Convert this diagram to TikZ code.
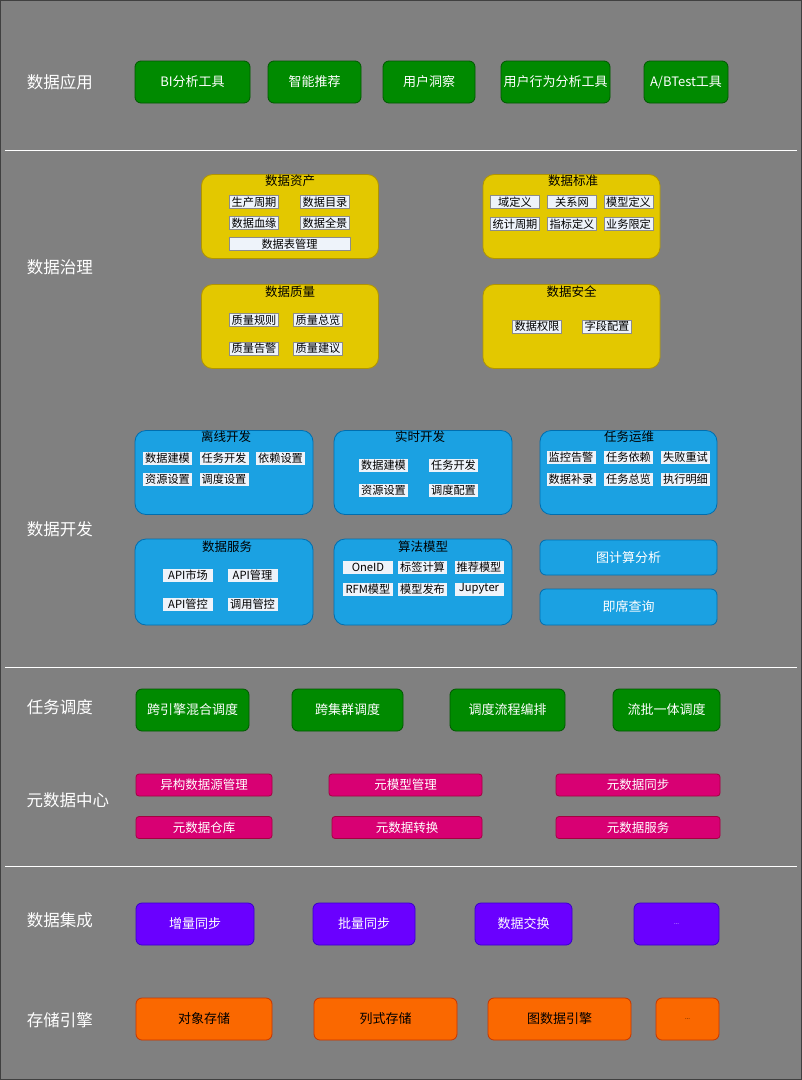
\documentclass[tikz,border=0pt]{standalone}
\usepackage{fontspec}
\setmainfont{Noto Sans CJK SC}
\definecolor{bggray}{RGB}{128,128,128}
\definecolor{appfill}{RGB}{0,138,0}
\definecolor{appline}{RGB}{0,87,0}
\definecolor{govfill}{RGB}{227,200,0}
\definecolor{govline}{RGB}{176,149,0}
\definecolor{devfill}{RGB}{27,161,226}
\definecolor{devline}{RGB}{0,110,175}
\definecolor{metafill}{RGB}{216,0,115}
\definecolor{metaline}{RGB}{165,0,64}
\definecolor{intfill}{RGB}{106,0,255}
\definecolor{intline}{RGB}{55,0,204}
\definecolor{storefill}{RGB}{250,104,0}
\definecolor{storeline}{RGB}{199,53,0}
\definecolor{itemfill}{RGB}{238,243,250}

\begin{document}
\begin{tikzpicture}[
    x=1pt, y=-1pt,
    layer/.style={text=white, font=\fontsize{16.5}{18}\selectfont},
    tile/.style={rectangle, line width=0.8pt, inner sep=0pt, align=center},
    app/.style={tile, rounded corners=6pt, fill=appfill, draw=appline, text=white,
      font=\fontsize{13}{15}\selectfont, minimum height=42pt},
    group/.style={tile, rounded corners=11pt, minimum height=84pt},
    gov/.style={group, fill=govfill, draw=govline, minimum width=177pt},
    dev/.style={group, fill=devfill, draw=devline, minimum width=178pt},
    title/.style={font=\fontsize{12.5}{14}\selectfont, text=black, inner sep=0pt},
    item/.style={tile, fill=itemfill, draw=black!45, line width=0.4pt, text=black,
      font=\fontsize{11.2}{12}\selectfont, minimum width=49pt, minimum height=13pt},
    ditem/.style={item, draw=none},
    solo/.style={tile, rounded corners=6pt, fill=devfill, draw=devline, text=white,
      font=\fontsize{13}{15}\selectfont, minimum width=177pt},
    meta/.style={tile, rounded corners=3pt, fill=metafill, draw=metaline, text=white,
      font=\fontsize{12.5}{14}\selectfont, minimum height=22pt},
    integ/.style={tile, rounded corners=6pt, fill=intfill, draw=intline, text=white,
      font=\fontsize{13}{15}\selectfont, minimum height=42pt},
    store/.style={tile, rounded corners=6pt, fill=storefill, draw=storeline, text=black,
      font=\fontsize{13}{15}\selectfont, minimum height=42pt},
    sep/.style={draw=white, line width=1pt}
  ]
    \useasboundingbox (0,0) rectangle (802,1080);
    \fill[bggray] (0,0) rectangle (802,1080);
    \draw[black!75, line width=1.5pt] (0,0) rectangle (802,1080);

    \node[layer] (l-app) at (60,82) {数据应用};
    \node[app, minimum width=115pt] (bi) at (192.5,82) {BI分析工具};
    \node[app, minimum width=93pt] (recommend) at (314.5,82) {智能推荐};
    \node[app, minimum width=92pt] (insight) at (429,82) {用户洞察};
    \node[app, minimum width=109pt] (behavior) at (555.5,82) {用户行为分析工具};
    \node[app, minimum width=84pt] (abtest) at (686,82) {A/BTest工具};

    \draw[sep] (5,150) -- (797,150);

    \node[layer] (l-gov) at (60,267) {数据治理};
    \node[gov] (asset) at (290,216.5) {};
    \node[title] (asset-t) at (290,181) {数据资产};
    \node[item] (a1) at (254,202) {生产周期};
    \node[item] (a2) at (325,202) {数据目录};
    \node[item] (a3) at (254,223) {数据血缘};
    \node[item] (a4) at (325,223) {数据全景};
    \node[item, minimum width=121pt] (a5) at (289.5,244) {数据表管理};

    \node[gov] (standard) at (571.5,216.5) {};
    \node[title] (standard-t) at (573,181) {数据标准};
    \node[item] (s1) at (515,202) {域定义};
    \node[item] (s2) at (572,202) {关系网};
    \node[item] (s3) at (628.5,202) {模型定义};
    \node[item] (s4) at (515,224) {统计周期};
    \node[item] (s5) at (572,224) {指标定义};
    \node[item] (s6) at (628.5,224) {业务限定};

    \node[gov] (quality) at (290,326.5) {};
    \node[title] (quality-t) at (290,292) {数据质量};
    \node[item] (q1) at (254,320) {质量规则};
    \node[item] (q2) at (318,320) {质量总览};
    \node[item] (q3) at (254,348.5) {质量告警};
    \node[item] (q4) at (318,348.5) {质量建议};

    \node[gov] (security) at (571.5,326.5) {};
    \node[title] (security-t) at (571.5,292) {数据安全};
    \node[item] (c1) at (537,326.5) {数据权限};
    \node[item] (c2) at (607,326.5) {字段配置};

    \node[layer] (l-dev) at (60,529) {数据开发};
    \node[dev] (offline) at (224,472.5) {};
    \node[title] (offline-t) at (226,437) {离线开发};
    \node[ditem] (o1) at (167.5,458) {数据建模};
    \node[ditem] (o2) at (224,458) {任务开发};
    \node[ditem] (o3) at (280.5,458) {依赖设置};
    \node[ditem] (o4) at (167.5,479.5) {资源设置};
    \node[ditem] (o5) at (224,479.5) {调度设置};

    \node[dev] (realtime) at (423,472.5) {};
    \node[title] (realtime-t) at (420,437) {实时开发};
    \node[ditem] (r1) at (383.5,465) {数据建模};
    \node[ditem] (r2) at (453.5,465) {任务开发};
    \node[ditem] (r3) at (383.5,490) {资源设置};
    \node[ditem] (r4) at (453.5,490) {调度配置};

    \node[dev, minimum width=177pt] (ops) at (628.5,472.5) {};
    \node[title] (ops-t) at (629,437) {任务运维};
    \node[ditem] (p1) at (571,457.5) {监控告警};
    \node[ditem] (p2) at (628.5,457.5) {任务依赖};
    \node[ditem] (p3) at (685.5,457.5) {失败重试};
    \node[ditem] (p4) at (571,479.5) {数据补录};
    \node[ditem] (p5) at (628.5,479.5) {任务总览};
    \node[ditem] (p6) at (685.5,479.5) {执行明细};

    \node[dev, minimum height=86pt] (service) at (224,582) {};
    \node[title] (service-t) at (227,547) {数据服务};
    \node[ditem, minimum width=50pt] (v1) at (188,575.5) {API市场};
    \node[ditem, minimum width=50pt] (v2) at (252.5,575.5) {API管理};
    \node[ditem, minimum width=50pt] (v3) at (188,604) {API管控};
    \node[ditem, minimum width=50pt] (v4) at (252.5,604) {调用管控};

    \node[dev, minimum height=86pt] (algo) at (423,582) {};
    \node[title] (algo-t) at (423,547) {算法模型};
    \node[ditem, minimum width=50pt] (m1) at (368,567) {OneID};
    \node[ditem] (m2) at (422.5,567) {标签计算};
    \node[ditem] (m3) at (479,567) {推荐模型};
    \node[ditem, minimum width=50pt] (m4) at (368,589) {RFM模型};
    \node[ditem] (m5) at (422.5,589) {模型发布};
    \node[ditem] (m6) at (479,589) {Jupyter};

    \node[solo, minimum height=35pt] (graph) at (628.5,557.5) {图计算分析};
    \node[solo, minimum height=36pt] (adhoc) at (628.5,607) {即席查询};

    \draw[sep] (5,667) -- (797,667);

    \node[layer] (l-sched) at (60,707) {任务调度};
    \node[app, minimum width=113pt] (engine) at (192.5,710) {跨引擎混合调度};
    \node[app, minimum width=111pt] (cluster) at (347.5,710) {跨集群调度};
    \node[app, minimum width=115pt] (flow) at (507.5,710) {调度流程编排};
    \node[app, minimum width=107pt] (stream) at (666.5,710) {流批一体调度};

    \node[layer] (l-meta) at (68,800) {元数据中心};
    \node[meta, minimum width=136pt] (hetero) at (204,785) {异构数据源管理};
    \node[meta, minimum width=153pt] (model) at (405.5,785) {元模型管理};
    \node[meta, minimum width=164pt] (sync) at (638,785) {元数据同步};
    \node[meta, minimum width=136pt] (warehouse) at (204,827.5) {元数据仓库};
    \node[meta, minimum width=150pt] (convert) at (407,827.5) {元数据转换};
    \node[meta, minimum width=164pt] (msvc) at (638,827.5) {元数据服务};

    \draw[sep] (5,866) -- (797,866);

    \node[layer] (l-int) at (60,920) {数据集成};
    \node[integ, minimum width=118pt] (incr) at (195,924) {增量同步};
    \node[integ, minimum width=102pt] (batch) at (364,924) {批量同步};
    \node[integ, minimum width=97pt] (exchange) at (523.5,924) {数据交换};
    \node[integ, minimum width=85pt, font=\fontsize{6}{7}\selectfont] (int-more) at (676.5,924) {...};

    \node[layer] (l-store) at (60,1020) {存储引擎};
    \node[store, minimum width=136pt] (object) at (204,1019) {对象存储};
    \node[store, minimum width=143pt] (column) at (385.5,1019) {列式存储};
    \node[store, minimum width=143pt] (graphdb) at (559.5,1019) {图数据引擎};
    \node[store, minimum width=63pt, font=\fontsize{6}{7}\selectfont] (store-more) at (687.5,1019) {...};
  \end{tikzpicture}
\end{document}
